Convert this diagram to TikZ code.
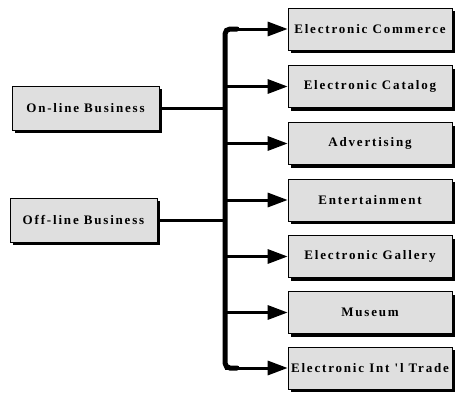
\documentclass[tikz,border=0pt]{standalone}
\usepackage{fontspec}
\setmainfont{Liberation Serif}
\newfontfamily\boxfont{Liberation Serif}[LetterSpace=14]
\usetikzlibrary{shadows,arrows.meta}

\begin{document}
\begin{tikzpicture}[x=1pt, y=-1pt,
    biz/.style={draw=black, line width=0.6pt, fill=gray!25,
      drop shadow={shadow xshift=3pt, shadow yshift=-3pt, fill=black, opacity=1},
      font=\boxfont\bfseries\fontsize{13}{15}\selectfont, inner sep=0pt},
    target/.style={biz, minimum width=164pt, minimum height=42pt},
    source/.style={biz, minimum width=147pt, minimum height=44pt},
    bus/.style={line width=5pt, line cap=round},
    link/.style={line width=3pt},
    feed/.style={line width=3pt, -{Triangle[length=20pt, width=14pt]}}]
  % fixed frame
  \useasboundingbox (0,0) rectangle (459,394);

  % business kinds on the left
  \node[source] (online) at (85.5,108) {On-line Business};
  \node[source] (offline) at (83.5,220) {Off-line Business};

  % applications on the right
  \foreach \name/\ypos/\txt in {ec/29/Electronic Commerce, ecat/86.5/Electronic Catalog,
      adv/143.5/Advertising, ent/200/Entertainment, gal/256.5/Electronic Gallery,
      mus/312.5/Museum, trade/368/Electronic Int 'l Trade}
    \node[target] (\name) at (370,\ypos) {\txt};

  % the bus
  \coordinate (bustop) at (225,29);
  \coordinate (busbot) at (225,368);
  \draw[bus, rounded corners=5pt] (237,29) -- (bustop) -- (busbot) -- (237,368);

  \draw[link] (online.east) -- (online.east -| bustop);
  \draw[link] (offline.east) -- (offline.east -| bustop);

  \foreach \name in {ec,ecat,adv,ent,gal,mus,trade}
    \draw[feed] (bustop |- \name.west) -- (\name.west);
\end{tikzpicture}
\end{document}
